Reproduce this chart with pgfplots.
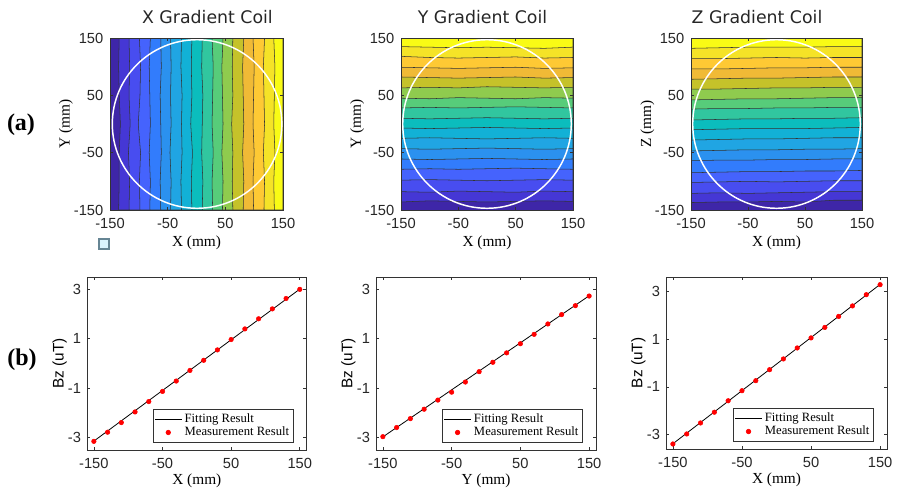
\documentclass[border=0pt]{standalone}
\usepackage{pgfplots}
\pgfplotsset{compat=1.18}
\usepackage{fontspec}
\setmainfont{Liberation Serif}
\setsansfont{Liberation Sans}
\newfontfamily\titlefont{DejaVu Sans}
\definecolor{c1}{HTML}{3E26A8}
\definecolor{c2}{HTML}{4537D5}
\definecolor{c3}{HTML}{484DF0}
\definecolor{c4}{HTML}{4563FD}
\definecolor{c5}{HTML}{327CFC}
\definecolor{c6}{HTML}{2B91EF}
\definecolor{c7}{HTML}{20A5E3}
\definecolor{c8}{HTML}{12B1D6}
\definecolor{c9}{HTML}{0BBDBD}
\definecolor{c10}{HTML}{31C69F}
\definecolor{c11}{HTML}{57CC7A}
\definecolor{c12}{HTML}{8FCB4E}
\definecolor{c13}{HTML}{C5C22A}
\definecolor{c14}{HTML}{F0BA36}
\definecolor{c15}{HTML}{FEC934}
\definecolor{c16}{HTML}{F5E327}
\definecolor{c17}{HTML}{F9FB15}
\pgfplotsset{
  topax/.style={scale only axis, anchor=south west,
    xmin=-150, xmax=150, ymin=-150, ymax=150,
    xtick={-150,-50,50,150}, ytick={-150,-50,50,150},
    axis on top, tick align=inside, major tick length=2pt,
    ticklabel style={font=\sffamily\fontsize{11}{12}\selectfont, text=black!85},
    xticklabel style={yshift=-3pt},
    yticklabel style={xshift=-1.5pt},
    /pgf/number format/assume math mode=true,
    axis line style={black!80, line width=0.5pt},
    every tick/.style={black!80, line width=0.5pt},
    xlabel style={at={(axis description cs:0.5,-0.19)}, anchor=center, font=\rmfamily\fontsize{11.5}{12}\selectfont},
    ylabel style={at={(axis description cs:-0.255,0.5)}, anchor=center, font=\rmfamily\fontsize{11.5}{12}\selectfont}},
  band/.style={fill=#1, draw=black!80, line width=0.4pt, mark=none, forget plot},
  botax/.style={scale only axis, anchor=south west,
    xmin=-160, xmax=160,
    xtick={-150,-50,50,150}, ytick={-3,-1,1,3},
    tick align=inside, major tick length=2.5pt,
    ticklabel style={font=\sffamily\fontsize{11}{12}\selectfont, text=black!85},
    xticklabel style={yshift=-3pt},
    yticklabel style={xshift=-1pt},
    /pgf/number format/assume math mode=true,
    axis line style={black!80, line width=0.5pt},
    every tick/.style={black!80, line width=0.5pt},
    xlabel style={at={(axis description cs:0.5,-0.18)}, anchor=center, font=\rmfamily\fontsize{11.5}{12}\selectfont},
    ylabel style={at={(axis description cs:-0.125,0.5)}, anchor=center, font=\sffamily\fontsize{11.5}{12}\selectfont},
    ylabel={Bz (uT)},
    legend style={at={(0.94,0.045)}, anchor=south east, font=\rmfamily\fontsize{9.5}{10}\selectfont,
      draw=black!80, line width=0.5pt, inner sep=1pt, row sep=-2pt, cells={anchor=west}}},
  fitline/.style={black, line width=0.6pt, mark=none,
    legend image code/.code={\draw[##1] (0pt,0pt) -- (20pt,0pt);}},
  meas/.style={only marks, mark=*, mark size=1.7pt, color=red, mark options={draw=red, fill=red},
    legend image code/.code={\draw[mark repeat=2,mark phase=2,##1] plot coordinates {(0pt,0pt)(10pt,0pt)(20pt,0pt)};}}
}
\begin{document}
\begin{tikzpicture}
\useasboundingbox (0,0) rectangle (672.75pt,372.75pt);

% labels and titles
\node[font=\rmfamily\bfseries\fontsize{18}{20}\selectfont] at (15.75pt,279pt) {(a)};
\node[font=\rmfamily\bfseries\fontsize{18}{20}\selectfont] at (16.5pt,102.75pt) {(b)};
\node[anchor=base, font=\titlefont\fontsize{13}{15}\selectfont, text=black!85] at (155.6pt,355pt) {X Gradient Coil};
\node[anchor=base, font=\titlefont\fontsize{13}{15}\selectfont, text=black!85] at (361.9pt,355pt) {Y Gradient Coil};
\node[anchor=base, font=\titlefont\fontsize{13}{15}\selectfont, text=black!85] at (567.75pt,355pt) {Z Gradient Coil};
\draw[draw=black!45!cyan!60!gray, fill=cyan!15!white, line width=0.8pt] (74.25pt,186pt) rectangle (81.75pt,193.5pt);

% ---------------- X gradient coil ----------------
\begin{axis}[topax, at={(82.5pt,215.25pt)}, width=129.75pt, height=129pt,
  xlabel={X (mm)}, ylabel={Y (mm)}]
\addplot[band=c1, draw=none] coordinates {(-150,-150)(150,-150)(150,150)(-150,150)} -- cycle;
\addplot[band=c2] coordinates {(-135,-150)(-134,-100)(-134,-50)(-132,0)(-134,50)(-135,100)(-134,150)(150,150)(150,-150)} -- cycle;
\addplot[band=c3] coordinates {(-117,-150)(-116,-100)(-118,-50)(-115,0)(-117,50)(-116,100)(-117,150)(150,150)(150,-150)} -- cycle;
\addplot[band=c4] coordinates {(-98,-150)(-99,-100)(-97,-50)(-101,0)(-98,50)(-97,100)(-99,150)(150,150)(150,-150)} -- cycle;
\addplot[band=c5] coordinates {(-81,-150)(-80,-100)(-82,-50)(-80,0)(-81,50)(-82,100)(-80,150)(150,150)(150,-150)} -- cycle;
\addplot[band=c6] coordinates {(-62,-150)(-63,-100)(-61,-50)(-62,0)(-63,50)(-61,100)(-62,150)(150,150)(150,-150)} -- cycle;
\addplot[band=c7] coordinates {(-45,-150)(-44,-100)(-46,-50)(-44,0)(-45,50)(-44,100)(-45,150)(150,150)(150,-150)} -- cycle;
\addplot[band=c8] coordinates {(-26,-150)(-27,-100)(-25,-50)(-26,0)(-25,50)(-27,100)(-26,150)(150,150)(150,-150)} -- cycle;
\addplot[band=c9] coordinates {(-8,-150)(-9,-100)(-7,-50)(-10,0)(-8,50)(-9,100)(-8,150)(150,150)(150,-150)} -- cycle;
\addplot[band=c10] coordinates {(10,-150)(11,-100)(9,-50)(10,0)(11,50)(9,100)(10,150)(150,150)(150,-150)} -- cycle;
\addplot[band=c11] coordinates {(28,-150)(27,-100)(29,-50)(27,0)(28,50)(29,100)(27,150)(150,150)(150,-150)} -- cycle;
\addplot[band=c12] coordinates {(45,-150)(46,-100)(44,-50)(46,0)(45,50)(44,100)(46,150)(150,150)(150,-150)} -- cycle;
\addplot[band=c13] coordinates {(63,-150)(62,-100)(63,-50)(61,0)(63,50)(62,100)(63,150)(150,150)(150,-150)} -- cycle;
\addplot[band=c14] coordinates {(81,-150)(82,-100)(80,-50)(82,0)(81,50)(80,100)(82,150)(150,150)(150,-150)} -- cycle;
\addplot[band=c15] coordinates {(99,-150)(98,-100)(100,-50)(98,0)(99,50)(100,100)(98,150)(150,150)(150,-150)} -- cycle;
\addplot[band=c16] coordinates {(117,-150)(118,-100)(116,-50)(118,0)(117,50)(116,100)(118,150)(150,150)(150,-150)} -- cycle;
\addplot[band=c17] coordinates {(135,-150)(134,-100)(136,-50)(134,0)(135,50)(136,100)(134,150)(150,150)(150,-150)} -- cycle;
\draw[white, line width=1.1pt] (axis cs:1,0) ellipse [x radius=147, y radius=147];
\end{axis}

% ---------------- Y gradient coil ----------------
\begin{axis}[topax, at={(300.75pt,215.25pt)}, width=129pt, height=129pt,
  xlabel={X (mm)}, ylabel={Y (mm)}]
\addplot[band=c1, draw=none] coordinates {(-150,-150)(150,-150)(150,150)(-150,150)} -- cycle;
\addplot[band=c2] coordinates {(-150,-136)(-100,-134)(-50,-135)(0,-136)(50,-135)(100,-134)(150,-135)(150,150)(-150,150)} -- cycle;
\addplot[band=c3] coordinates {(-150,-118)(-100,-119)(-50,-117)(0,-118)(50,-119)(100,-117)(150,-118)(150,150)(-150,150)} -- cycle;
\addplot[band=c4] coordinates {(-150,-98)(-100,-97)(-50,-98)(0,-99)(50,-98)(100,-97)(150,-98)(150,150)(-150,150)} -- cycle;
\addplot[band=c5] coordinates {(-150,-79)(-100,-78)(-50,-79)(0,-78)(50,-77)(100,-78)(150,-79)(150,150)(-150,150)} -- cycle;
\addplot[band=c6] coordinates {(-150,-61)(-100,-62)(-50,-61)(0,-60)(50,-61)(100,-62)(150,-61)(150,150)(-150,150)} -- cycle;
\addplot[band=c7] coordinates {(-150,-43)(-100,-44)(-50,-43)(0,-42)(50,-43)(100,-44)(150,-43)(150,150)(-150,150)} -- cycle;
\addplot[band=c8] coordinates {(-150,-25)(-100,-24)(-50,-25)(0,-26)(50,-25)(100,-24)(150,-25)(150,150)(-150,150)} -- cycle;
\addplot[band=c9] coordinates {(-150,-7)(-100,-8)(-50,-7)(0,-6)(50,-7)(100,-8)(150,-7)(150,150)(-150,150)} -- cycle;
\addplot[band=c10] coordinates {(-150,10)(-100,9)(-50,10)(0,11)(50,10)(100,9)(150,10)(150,150)(-150,150)} -- cycle;
\addplot[band=c11] coordinates {(-150,28)(-100,29)(-50,28)(0,29)(50,30)(100,29)(150,28)(150,150)(-150,150)} -- cycle;
\addplot[band=c12] coordinates {(-150,45)(-100,44)(-50,46)(0,45)(50,44)(100,46)(150,45)(150,150)(-150,150)} -- cycle;
\addplot[band=c13] coordinates {(-150,63)(-100,64)(-50,63)(0,65)(50,64)(100,63)(150,64)(150,150)(-150,150)} -- cycle;
\addplot[band=c14] coordinates {(-150,82)(-100,81)(-50,80)(0,81)(50,82)(100,80)(150,81)(150,150)(-150,150)} -- cycle;
\addplot[band=c15] coordinates {(-150,99)(-100,98)(-50,97)(0,98)(50,99)(100,97)(150,98)(150,150)(-150,150)} -- cycle;
\addplot[band=c16] coordinates {(-150,118)(-100,116)(-50,115)(0,116)(50,117)(100,115)(150,116)(150,150)(-150,150)} -- cycle;
\addplot[band=c17] coordinates {(-150,135)(-100,134)(-50,133)(0,134)(50,133)(100,132)(150,134)(150,150)(-150,150)} -- cycle;
\draw[white, line width=1.1pt] (axis cs:0,0) ellipse [x radius=147, y radius=147];
\end{axis}

% ---------------- Z gradient coil ----------------
\begin{axis}[topax, at={(518.25pt,215.25pt)}, width=128.25pt, height=129pt,
  xlabel={X (mm)}, ylabel={Z (mm)}]
\addplot[band=c1, draw=none] coordinates {(-150,-150)(150,-150)(150,150)(-150,150)} -- cycle;
\addplot[band=c2] coordinates {(-150,-137)(-100,-136)(-50,-136)(0,-135)(50,-136)(100,-133)(150,-133)(150,150)(-150,150)} -- cycle;
\addplot[band=c3] coordinates {(-150,-121)(-100,-120)(-50,-121)(0,-120)(50,-119)(100,-118)(150,-118)(150,150)(-150,150)} -- cycle;
\addplot[band=c4] coordinates {(-150,-102)(-100,-101)(-50,-100)(0,-101)(50,-100)(100,-99)(150,-99)(150,150)(-150,150)} -- cycle;
\addplot[band=c5] coordinates {(-150,-85)(-100,-84)(-50,-83)(0,-83)(50,-82)(100,-82)(150,-81)(150,150)(-150,150)} -- cycle;
\addplot[band=c6] coordinates {(-150,-64)(-100,-63)(-50,-63)(0,-62)(50,-62)(100,-61)(150,-61)(150,150)(-150,150)} -- cycle;
\addplot[band=c7] coordinates {(-150,-47)(-100,-46)(-50,-45)(0,-45)(50,-44)(100,-44)(150,-43)(150,150)(-150,150)} -- cycle;
\addplot[band=c8] coordinates {(-150,-28)(-100,-27)(-50,-26)(0,-26)(50,-25)(100,-24)(150,-24)(150,150)(-150,150)} -- cycle;
\addplot[band=c9] coordinates {(-150,-10)(-100,-9)(-50,-8)(0,-8)(50,-8)(100,-7)(150,-6)(150,150)(-150,150)} -- cycle;
\addplot[band=c10] coordinates {(-150,7)(-100,8)(-50,9)(0,9)(50,10)(100,10)(150,11)(150,150)(-150,150)} -- cycle;
\addplot[band=c11] coordinates {(-150,26)(-100,27)(-50,27)(0,28)(50,28)(100,29)(150,29)(150,150)(-150,150)} -- cycle;
\addplot[band=c12] coordinates {(-150,42)(-100,43)(-50,44)(0,44)(50,45)(100,46)(150,46)(150,150)(-150,150)} -- cycle;
\addplot[band=c13] coordinates {(-150,61)(-100,61)(-50,62)(0,63)(50,63)(100,64)(150,64)(150,150)(-150,150)} -- cycle;
\addplot[band=c14] coordinates {(-150,78)(-100,79)(-50,80)(0,80)(50,81)(100,82)(150,82)(150,150)(-150,150)} -- cycle;
\addplot[band=c15] coordinates {(-150,96)(-100,96)(-50,97)(0,98)(50,98)(100,99)(150,99)(150,150)(-150,150)} -- cycle;
\addplot[band=c16] coordinates {(-150,114)(-100,114)(-50,115)(0,116)(50,115)(100,116)(150,116)(150,150)(-150,150)} -- cycle;
\addplot[band=c17] coordinates {(-150,132)(-100,133)(-50,134)(0,134)(50,134)(100,135)(150,135)(150,150)(-150,150)} -- cycle;
\draw[white, line width=1.1pt] (axis cs:0,0) ellipse [x radius=147, y radius=147];
\end{axis}

% ---------------- bottom row ----------------
\begin{axis}[botax, at={(65.25pt,35.25pt)}, width=164.75pt, height=129.75pt,
  ymin=-3.5, ymax=3.5, xlabel={X (mm)}]
\addplot[fitline] coordinates {(-150,-3.14)(150,3.01)};
\addlegendentry{Fitting Result}
\addplot[meas] coordinates {(-150,-3.15)(-130,-2.78)(-110,-2.39)(-90,-1.96)(-70,-1.54)(-50,-1.13)(-30,-0.71)(-10,-0.28)(10,0.13)(30,0.55)(50,0.97)(70,1.40)(90,1.81)(110,2.21)(130,2.63)(150,3.00)};
\addlegendentry{Measurement Result}
\end{axis}

\begin{axis}[botax, at={(282pt,35.25pt)}, width=165pt, height=129.75pt,
  ymin=-3.5, ymax=3.5, xlabel={Y (mm)}]
\addplot[fitline] coordinates {(-150,-2.97)(150,2.74)};
\addlegendentry{Fitting Result}
\addplot[meas] coordinates {(-150,-2.96)(-130,-2.59)(-110,-2.23)(-90,-1.85)(-70,-1.48)(-50,-1.16)(-30,-0.75)(-10,-0.33)(10,0.05)(30,0.43)(50,0.80)(70,1.18)(90,1.60)(110,1.98)(130,2.34)(150,2.73)};
\addlegendentry{Measurement Result}
\end{axis}

\begin{axis}[botax, at={(499.5pt,36pt)}, width=165.75pt, height=129pt,
  ymin=-3.6, ymax=3.6, xlabel={X (mm)}]
\addplot[fitline] coordinates {(-150,-3.38)(150,3.29)};
\addlegendentry{Fitting Result}
\addplot[meas] coordinates {(-150,-3.39)(-130,-2.97)(-110,-2.51)(-90,-2.06)(-70,-1.58)(-50,-1.16)(-30,-0.74)(-10,-0.28)(10,0.17)(30,0.63)(50,1.05)(70,1.49)(90,1.95)(110,2.39)(130,2.86)(150,3.28)};
\addlegendentry{Measurement Result}
\end{axis}
\end{tikzpicture}
\end{document}
